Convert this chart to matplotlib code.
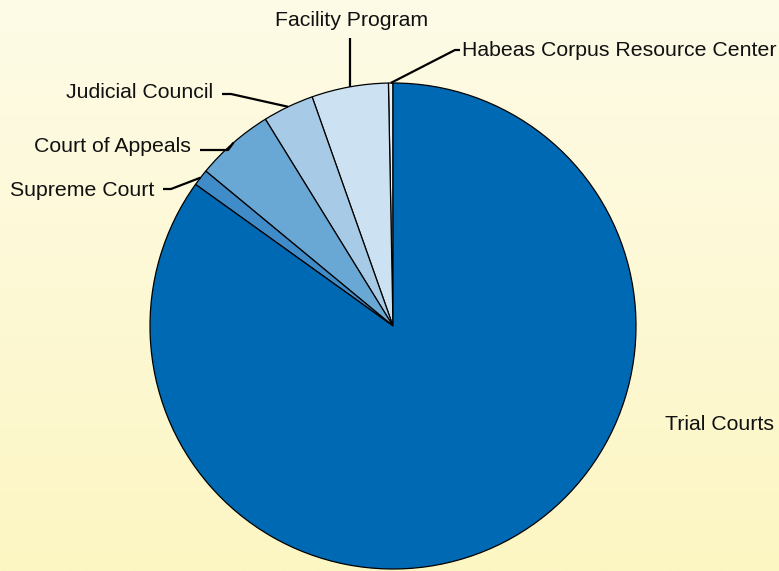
import numpy as np
import matplotlib
matplotlib.use("Agg")
import matplotlib.pyplot as plt
from matplotlib.colors import LinearSegmentedColormap

categories = ["Habeas Corpus Resource Center", "Facility Program", "Judicial Council",
              "Court of Appeals", "Supreme Court", "Trial Courts"]
shares = [0.3, 5.1, 3.4, 5.2, 1.1, 84.9]
colors = ["#E6F0F9", "#CCE1F2", "#A7CBE7", "#69A8D5", "#3F8CC9", "#0069B4"]

W, H = 779, 571
fig = plt.figure(figsize=(W / 100, H / 100), dpi=100)
ax = fig.add_axes([0, 0, 1, 1])

# background gradient
cmap = LinearSegmentedColormap.from_list("bg", ["#FCF6C3", "#FEFBE7"])
grad = np.linspace(0, 1, 256).reshape(-1, 1)
ax.imshow(grad, extent=[0, W, 0, H], origin="lower", cmap=cmap, aspect="auto", zorder=0)

cx, cy, r = 393, H - 326, 243
wedges, _ = ax.pie(shares, colors=colors, startangle=90, counterclock=True,
                   center=(cx, cy), radius=r, frame=True,
                   wedgeprops=dict(edgecolor="black", linewidth=0.9))
for w in wedges:
    w.set_zorder(2)
ax.set_xlim(0, W)
ax.set_ylim(0, H)
ax.set_aspect("equal")
ax.axis("off")

font = dict(family=["Liberation Sans", "DejaVu Sans"], fontsize=15.3, color="#111111")

# label layout: (elbow point, text point, ha) in pixel coords (y from top)
layout = {
    "Habeas Corpus Resource Center": ((455, 50), (462, 50), "left"),
    "Facility Program": ((349, 38), (352, 20), "center"),
    "Judicial Council": ((231, 94), (213, 93), "right"),
    "Court of Appeals": ((228, 150), (191, 147), "right"),
    "Supreme Court": ((171, 189), (154, 190), "right"),
}

for w, name in zip(wedges, categories):
    if name == "Trial Courts":
        ax.text(665, H - 424, name, ha="left", va="center", **font, zorder=4)
        continue
    mid = np.deg2rad((w.theta1 + w.theta2) / 2)
    ex, ey = cx + r * np.cos(mid), cy + r * np.sin(mid)
    (elx, ely), (tx, ty), ha = layout[name]
    ely = H - ely
    ty = H - ty
    if name == "Facility Program":
        ax.plot([ex, ex], [ey, ely], color="black", lw=1.6, zorder=3, solid_capstyle="butt")
        ax.text(tx, ty, name, ha="center", va="center", **font, zorder=4)
        continue
    if ha == "left":
        hx = tx - 2
    else:
        hx = tx + 9
    ax.plot([ex, elx, hx], [ey, ely, ely], color="black", lw=1.6, zorder=3,
            solid_capstyle="butt", solid_joinstyle="round")
    ax.text(tx, ty, name, ha=ha, va="center", **font, zorder=4)

fig.savefig("out.png", dpi=100)
